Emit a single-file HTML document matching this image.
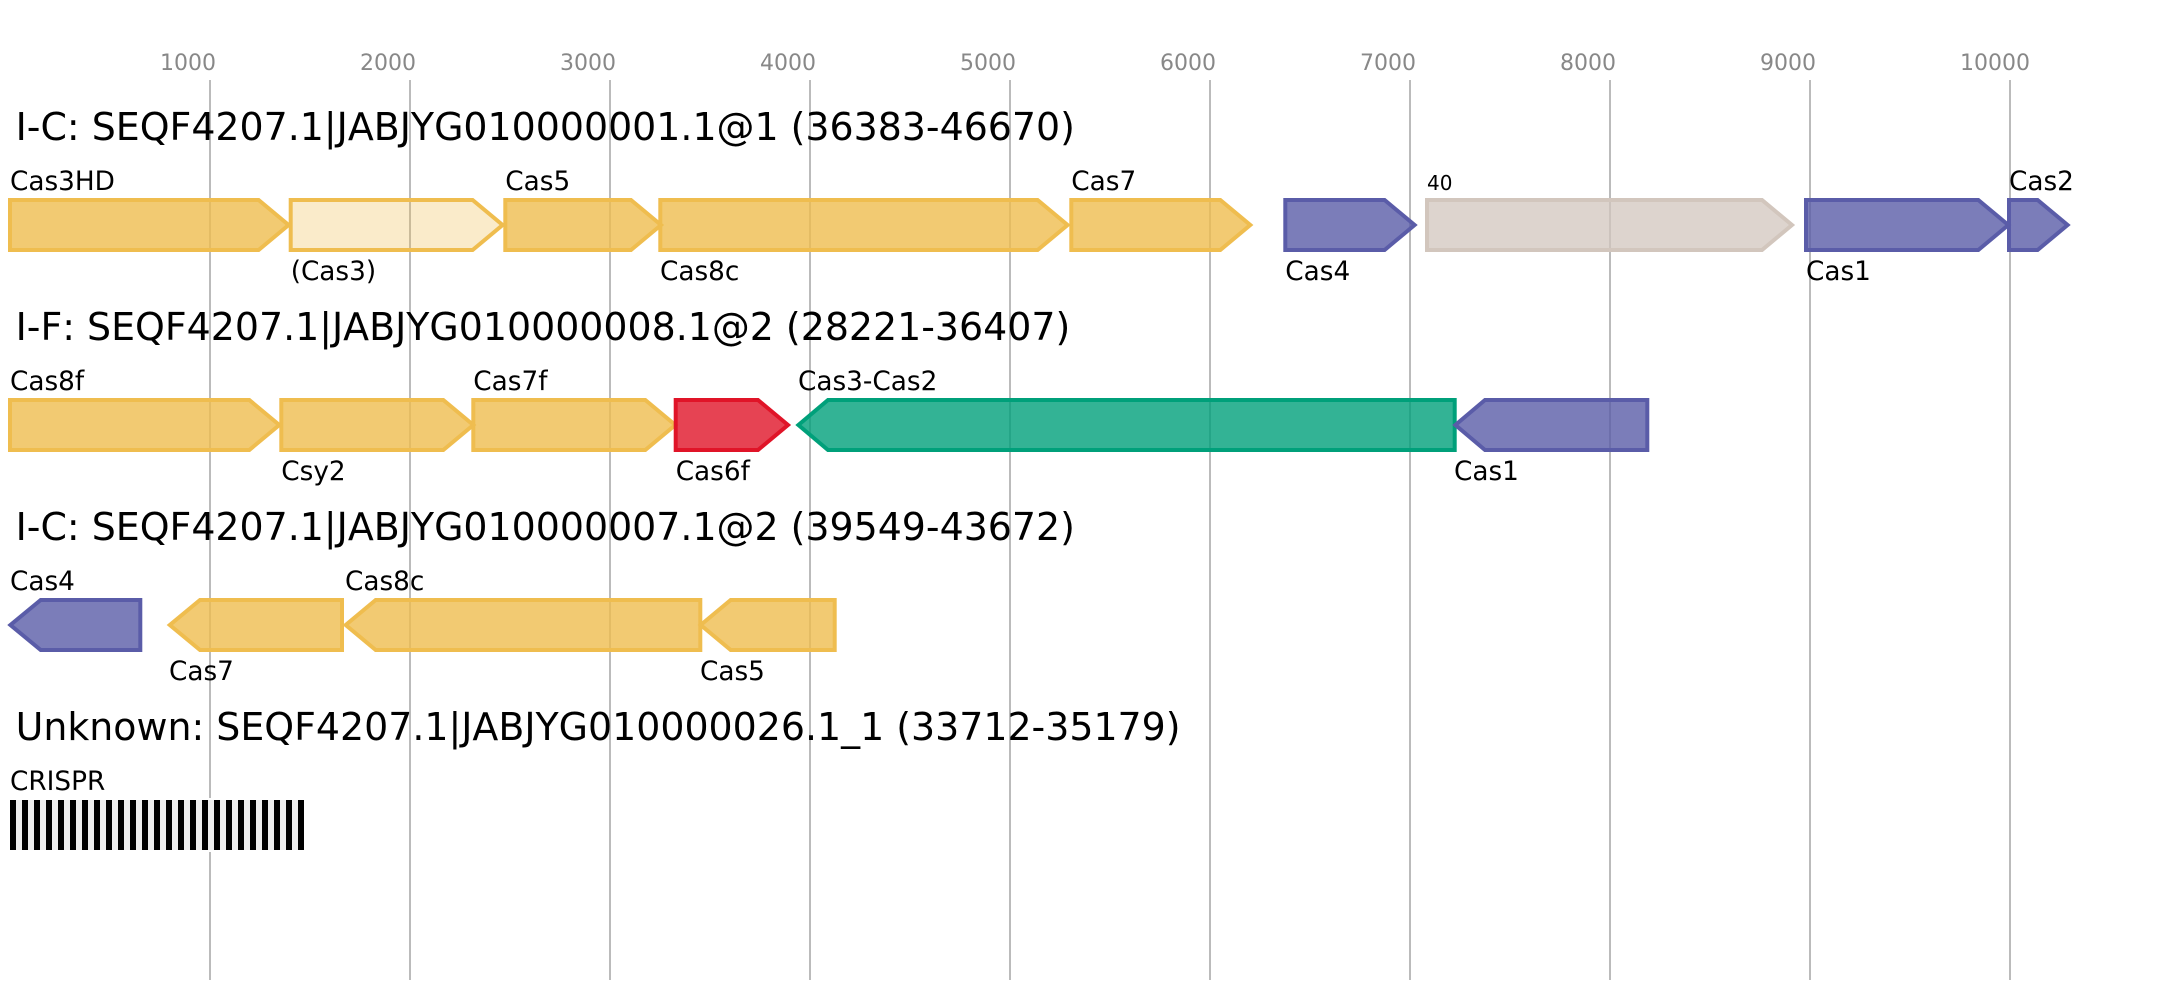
<!DOCTYPE html>
<html><head><meta charset="utf-8"><style>
html,body{margin:0;padding:0;background:#fff;width:2157px;height:1000px;overflow:hidden}
svg{display:block}
text{font-family:"DejaVu Sans","Liberation Sans",sans-serif;fill:#000}
.t{font-size:37.9px;font-kerning:none}.l{font-size:26.3px}.a{font-size:22px;fill:#888}.s{font-size:20px}
.y{stroke:#EFBD4F;fill:#EFBD4F;fill-opacity:.8}
.p{stroke:#EFBD4F;fill:#EFBD4F;fill-opacity:.3}
.b{stroke:#5A5CA8;fill:#5A5CA8;fill-opacity:.8}
.g{stroke:#00A07A;fill:#00A07A;fill-opacity:.8}
.r{stroke:#E01428;fill:#E01428;fill-opacity:.8}
.w{stroke:#D2C6BD;fill:#D2C6BD;fill-opacity:.75}
path{stroke-width:4;stroke-miterlimit:10}
</style></head><body>
<svg xmlns="http://www.w3.org/2000/svg" width="2157" height="1000" viewBox="0 0 2157 1000">
<g stroke="#bbb" stroke-width="2">
<line x1="210" y1="80" x2="210" y2="980"/><line x1="410" y1="80" x2="410" y2="980"/><line x1="610" y1="80" x2="610" y2="980"/><line x1="810" y1="80" x2="810" y2="980"/><line x1="1010" y1="80" x2="1010" y2="980"/><line x1="1210" y1="80" x2="1210" y2="980"/><line x1="1410" y1="80" x2="1410" y2="980"/><line x1="1610" y1="80" x2="1610" y2="980"/><line x1="1810" y1="80" x2="1810" y2="980"/><line x1="2010" y1="80" x2="2010" y2="980"/>
</g>
<text class="a" x="160" y="70">1000</text><text class="a" x="360" y="70">2000</text><text class="a" x="560" y="70">3000</text><text class="a" x="760" y="70">4000</text><text class="a" x="960" y="70">5000</text><text class="a" x="1160" y="70">6000</text><text class="a" x="1360" y="70">7000</text><text class="a" x="1560" y="70">8000</text><text class="a" x="1760" y="70">9000</text><text class="a" x="1960" y="70">10000</text>

<text class="t" x="15.6" y="140">I-C: SEQF4207.1|JABJYG010000001.1@1 (36383-46670)</text>
<path class="y" d="M10 200H258.6L288.6 225L258.6 250H10Z"/>
<path class="p" d="M290.7 200H472.6L502.6 225L472.6 250H290.7Z"/>
<path class="y" d="M505.3 200H631L661 225L631 250H505.3Z"/>
<path class="y" d="M660.3 200H1037.6L1067.6 225L1037.6 250H660.3Z"/>
<path class="y" d="M1071.3 200H1220.3L1250.3 225L1220.3 250H1071.3Z"/>
<path class="b" d="M1285.3 200H1384.6L1414.6 225L1384.6 250H1285.3Z"/>
<path class="w" d="M1427 200H1762L1792 225L1762 250H1427Z"/>
<path class="b" d="M1806 200H1978.3L2008.3 225L1978.3 250H1806Z"/>
<path class="b" d="M2009 200H2037.6L2067.6 225L2037.6 250H2009Z"/>
<text class="l" x="10" y="190">Cas3HD</text>
<text class="l" x="290.7" y="280">(Cas3)</text>
<text class="l" x="505.3" y="190">Cas5</text>
<text class="l" x="660" y="280">Cas8c</text>
<text class="l" x="1071.3" y="190">Cas7</text>
<text class="l" x="1285.3" y="280">Cas4</text>
<text class="s" x="1427" y="190">40</text>
<text class="l" x="1806" y="280">Cas1</text>
<text class="l" x="2009" y="190">Cas2</text>

<text class="t" x="15.6" y="340">I-F: SEQF4207.1|JABJYG010000008.1@2 (28221-36407)</text>
<path class="y" d="M10 400H249.3L279.3 425L249.3 450H10Z"/>
<path class="y" d="M281.3 400H443.3L473.3 425L443.3 450H281.3Z"/>
<path class="y" d="M473.3 400H645.3L675.3 425L645.3 450H473.3Z"/>
<path class="r" d="M675.7 400H758L788 425L758 450H675.7Z"/>
<path class="g" d="M1454.7 400H828L798.4 425L828 450H1454.7Z"/>
<path class="b" d="M1647.3 400H1485L1455.4 425L1485 450H1647.3Z"/>
<text class="l" x="10" y="390">Cas8f</text>
<text class="l" x="281.3" y="480">Csy2</text>
<text class="l" x="473.3" y="390">Cas7f</text>
<text class="l" x="675.7" y="480">Cas6f</text>
<text class="l" x="798" y="390">Cas3-Cas2</text>
<text class="l" x="1454" y="480">Cas1</text>

<text class="t" x="15.6" y="540">I-C: SEQF4207.1|JABJYG010000007.1@2 (39549-43672)</text>
<path class="b" d="M140.3 600H40.7L10.4 625L40.7 650H140.3Z"/>
<path class="y" d="M342 600H200L169.8 625L200 650H342Z"/>
<path class="y" d="M700.3 600H375.7L345.7 625L375.7 650H700.3Z"/>
<path class="y" d="M834.7 600H730.7L700.7 625L730.7 650H834.7Z"/>
<text class="l" x="10" y="590">Cas4</text>
<text class="l" x="169" y="680">Cas7</text>
<text class="l" x="345" y="590">Cas8c</text>
<text class="l" x="700" y="680">Cas5</text>

<text class="t" x="15.6" y="740">Unknown: SEQF4207.1|JABJYG010000026.1_1 (33712-35179)</text>
<text class="l" x="10" y="790">CRISPR</text>
<rect x="8" y="798" width="298" height="54" fill="#fff"/>
<rect x="10" y="800" width="294" height="50" fill="#eee"/>
<g fill="#000">
<rect x="10" y="800" width="6" height="50"/><rect x="22" y="800" width="6" height="50"/><rect x="34" y="800" width="6" height="50"/><rect x="46" y="800" width="6" height="50"/><rect x="58" y="800" width="6" height="50"/><rect x="70" y="800" width="6" height="50"/><rect x="82" y="800" width="6" height="50"/><rect x="94" y="800" width="6" height="50"/><rect x="106" y="800" width="6" height="50"/><rect x="118" y="800" width="6" height="50"/><rect x="130" y="800" width="6" height="50"/><rect x="142" y="800" width="6" height="50"/><rect x="154" y="800" width="6" height="50"/><rect x="166" y="800" width="6" height="50"/><rect x="178" y="800" width="6" height="50"/><rect x="190" y="800" width="6" height="50"/><rect x="202" y="800" width="6" height="50"/><rect x="214" y="800" width="6" height="50"/><rect x="226" y="800" width="6" height="50"/><rect x="238" y="800" width="6" height="50"/><rect x="250" y="800" width="6" height="50"/><rect x="262" y="800" width="6" height="50"/><rect x="274" y="800" width="6" height="50"/><rect x="286" y="800" width="6" height="50"/><rect x="298" y="800" width="6" height="50"/>
</g>
</svg>
</body></html>
